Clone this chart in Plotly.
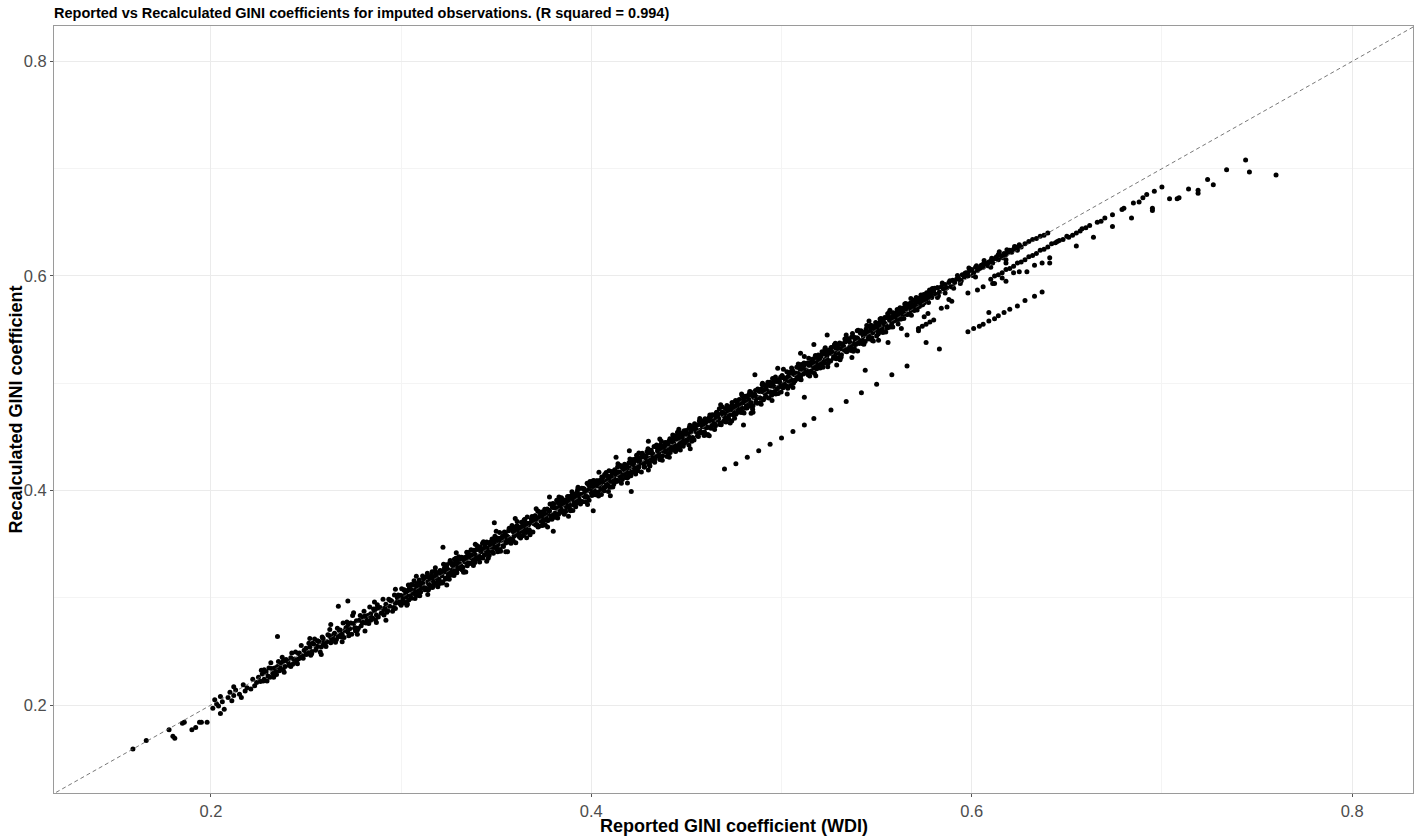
import plotly.graph_objects as go

# ---------------- data ----------------
tail_x = [0.159, 0.166, 0.178, 0.180, 0.181, 0.185, 0.186, 0.190, 0.192, 0.194, 0.198, 0.195]
tail_y = [0.159, 0.167, 0.177, 0.171, 0.169, 0.183, 0.184, 0.177, 0.179, 0.184, 0.184, 0.184]

seg_a_x = [0.201, 0.202, 0.203, 0.204, 0.205, 0.206, 0.207, 0.209, 0.210, 0.211, 0.212, 0.213, 0.215, 0.216, 0.217,
           0.218, 0.219, 0.221, 0.222, 0.223, 0.224, 0.225,
           0.226, 0.227, 0.228, 0.229, 0.230, 0.231, 0.232, 0.233, 0.234, 0.235, 0.236, 0.237, 0.238, 0.239, 0.240,
           0.241, 0.242, 0.243, 0.244, 0.245, 0.246, 0.247, 0.248, 0.249, 0.250, 0.251, 0.252, 0.253, 0.254, 0.255,
           0.256, 0.257, 0.258, 0.259, 0.260,
           0.228, 0.233, 0.238, 0.242, 0.246, 0.250, 0.253, 0.256, 0.259]
seg_a_y = [0.197, 0.205, 0.201, 0.199, 0.208, 0.203, 0.196, 0.207, 0.212, 0.204, 0.209, 0.214, 0.210, 0.207, 0.219,
           0.213, 0.216, 0.215, 0.224, 0.218, 0.221, 0.226,
           0.222, 0.229, 0.224, 0.231, 0.227, 0.226, 0.234, 0.229, 0.231, 0.236, 0.232, 0.239, 0.233, 0.236, 0.241,
           0.237, 0.244, 0.238, 0.243, 0.240, 0.248, 0.244, 0.246, 0.251, 0.247, 0.249, 0.254, 0.250, 0.257, 0.251,
           0.255, 0.259, 0.254, 0.262, 0.257,
           0.233, 0.226, 0.241, 0.236, 0.243, 0.253, 0.248, 0.260, 0.256]

seg_a2_x = [0.2265, 0.2275, 0.2285, 0.2295, 0.2305, 0.2315, 0.2325, 0.2335, 0.2345, 0.2355, 0.2365, 0.2375, 0.2385, 0.2395,
            0.2405, 0.2415, 0.2425, 0.2435, 0.2445, 0.2455, 0.2465, 0.2475, 0.2485, 0.2495, 0.2505, 0.2515, 0.2525, 0.2535,
            0.2545, 0.2555, 0.2565, 0.2575, 0.2585, 0.2595]
seg_a2_y = [0.2325, 0.2225, 0.2305, 0.2225, 0.2345, 0.2395, 0.2295, 0.2345, 0.2285, 0.2405, 0.2345, 0.2445, 0.2305, 0.2425,
            0.2405, 0.2375, 0.2485, 0.2425, 0.2495, 0.2385, 0.2485, 0.2555, 0.2435, 0.2505, 0.2475, 0.2575, 0.2465, 0.2575,
            0.2615, 0.2535, 0.2595, 0.2495, 0.2635, 0.2585]

seg_b_x = [0.261, 0.262, 0.263, 0.264, 0.265, 0.266, 0.267, 0.268, 0.269, 0.270, 0.271, 0.272, 0.273, 0.274, 0.275,
           0.276, 0.277, 0.278, 0.279, 0.280, 0.281, 0.282, 0.283, 0.284, 0.285, 0.286, 0.287, 0.288, 0.289, 0.290,
           0.291, 0.292, 0.293, 0.294, 0.295, 0.296, 0.297, 0.298, 0.299, 0.300,
           0.263, 0.268, 0.272, 0.276, 0.280, 0.284, 0.287, 0.291, 0.294, 0.297, 0.299]
seg_b_y = [0.259, 0.265, 0.258, 0.262, 0.267, 0.261, 0.264, 0.270, 0.266, 0.263, 0.272, 0.268, 0.271, 0.266, 0.276,
           0.272, 0.270, 0.279, 0.274, 0.277, 0.283, 0.279, 0.276, 0.285, 0.281, 0.288, 0.284, 0.282, 0.291, 0.286,
           0.289, 0.294, 0.288, 0.292, 0.297, 0.291, 0.295, 0.300, 0.296, 0.293,
           0.263, 0.265, 0.274, 0.269, 0.282, 0.279, 0.290, 0.284, 0.298, 0.290, 0.302]

seg_b2_x = [0.2605, 0.2615, 0.2625, 0.2635, 0.2645, 0.2655, 0.2665, 0.2675, 0.2685, 0.2695, 0.2705, 0.2715, 0.2725, 0.2735,
            0.2745, 0.2755, 0.2765, 0.2775, 0.2785, 0.2795, 0.2805, 0.2815, 0.2825, 0.2835, 0.2845, 0.2855, 0.2865, 0.2875,
            0.2885, 0.2895, 0.2905, 0.2915, 0.2925, 0.2935, 0.2945, 0.2955, 0.2965, 0.2975, 0.2985, 0.2995]
seg_b2_y = [0.2545, 0.2655, 0.2705, 0.2605, 0.2655, 0.2585, 0.2715, 0.2695, 0.2635, 0.2765, 0.2695, 0.2775, 0.2645, 0.2765,
            0.2835, 0.2715, 0.2785, 0.2715, 0.2835, 0.2775, 0.2875, 0.2765, 0.2835, 0.2915, 0.2815, 0.2895, 0.2795, 0.2935,
            0.2905, 0.2855, 0.2985, 0.2905, 0.2865, 0.2985, 0.2975, 0.2875, 0.3025, 0.2955, 0.3025, 0.2945]

band_c1_x = [0.300, 0.301, 0.302, 0.303, 0.304, 0.305, 0.306, 0.307, 0.308, 0.309, 0.310, 0.311, 0.312, 0.313, 0.314, 0.315, 0.316, 0.317, 0.318, 0.319,
             0.320, 0.321, 0.322, 0.323, 0.324, 0.325, 0.326, 0.327, 0.328, 0.329, 0.330, 0.331, 0.332, 0.333, 0.334, 0.335, 0.336, 0.337, 0.338, 0.339,
             0.340, 0.341, 0.342, 0.343, 0.344, 0.345, 0.346, 0.347, 0.348, 0.349, 0.350, 0.351, 0.352, 0.353, 0.354, 0.355, 0.356, 0.357, 0.358, 0.359,
             0.360, 0.361, 0.362, 0.363, 0.364, 0.365, 0.366, 0.367, 0.368, 0.369, 0.370, 0.371, 0.372, 0.373, 0.374, 0.375, 0.376, 0.377, 0.378, 0.379,
             0.380, 0.381, 0.382, 0.383, 0.384, 0.385, 0.386, 0.387, 0.388, 0.389, 0.390, 0.391, 0.392, 0.393, 0.394, 0.395, 0.396, 0.397, 0.398, 0.399,
             0.400, 0.401, 0.402, 0.403, 0.404, 0.405, 0.406, 0.407, 0.408, 0.409, 0.410, 0.411, 0.412, 0.413, 0.414, 0.415, 0.416, 0.417, 0.418, 0.419,
             0.420, 0.421, 0.422, 0.423, 0.424, 0.425, 0.426, 0.427, 0.428, 0.429, 0.430, 0.431, 0.432, 0.433, 0.434, 0.435, 0.436, 0.437, 0.438, 0.439,
             0.440, 0.441, 0.442, 0.443, 0.444, 0.445, 0.446, 0.447, 0.448, 0.449, 0.450, 0.451, 0.452, 0.453, 0.454, 0.455, 0.456, 0.457, 0.458, 0.459,
             0.460, 0.461, 0.462, 0.463, 0.464, 0.465, 0.466, 0.467, 0.468, 0.469, 0.470, 0.471, 0.472, 0.473, 0.474, 0.475, 0.476, 0.477, 0.478, 0.479,
             0.480, 0.481, 0.482, 0.483, 0.484, 0.485, 0.486, 0.487, 0.488, 0.489, 0.490, 0.491, 0.492, 0.493, 0.494, 0.495, 0.496, 0.497, 0.498, 0.499]
band_c1_y = [0.302, 0.297, 0.307, 0.302, 0.298, 0.308, 0.312, 0.304, 0.308, 0.302, 0.314, 0.309, 0.319, 0.308, 0.315, 0.312, 0.321, 0.311, 0.320, 0.318,
             0.317, 0.325, 0.315, 0.324, 0.330, 0.323, 0.321, 0.330, 0.336, 0.325, 0.330, 0.336, 0.326, 0.335, 0.333, 0.341, 0.332, 0.340, 0.330, 0.340,
             0.345, 0.339, 0.343, 0.337, 0.348, 0.352, 0.343, 0.347, 0.343, 0.351, 0.356, 0.350, 0.345, 0.356, 0.358, 0.351, 0.357, 0.355, 0.365, 0.353,
             0.360, 0.367, 0.357, 0.366, 0.362, 0.373, 0.362, 0.368, 0.361, 0.374, 0.369, 0.373, 0.366, 0.377, 0.380, 0.372, 0.376, 0.372, 0.381, 0.377,
             0.384, 0.375, 0.384, 0.390, 0.383, 0.381, 0.391, 0.384, 0.389, 0.381, 0.396, 0.391, 0.390, 0.396, 0.389, 0.402, 0.395, 0.399, 0.394, 0.404,
             0.398, 0.404, 0.396, 0.409, 0.404, 0.401, 0.408, 0.415, 0.405, 0.410, 0.403, 0.416, 0.411, 0.417, 0.409, 0.417, 0.422, 0.415, 0.412, 0.422,
             0.421, 0.416, 0.429, 0.421, 0.428, 0.422, 0.426, 0.433, 0.422, 0.431, 0.435, 0.430, 0.428, 0.441, 0.432, 0.438, 0.429, 0.438, 0.442, 0.436,
             0.439, 0.446, 0.438, 0.445, 0.451, 0.439, 0.449, 0.445, 0.449, 0.444, 0.456, 0.451, 0.449, 0.457, 0.447, 0.457, 0.461, 0.456, 0.454, 0.465,
             0.463, 0.459, 0.468, 0.458, 0.465, 0.462, 0.473, 0.467, 0.462, 0.473, 0.469, 0.476, 0.468, 0.475, 0.482, 0.472, 0.471, 0.480, 0.478, 0.477,
             0.485, 0.477, 0.483, 0.490, 0.482, 0.479, 0.489, 0.487, 0.494, 0.486, 0.492, 0.486, 0.496, 0.492, 0.501, 0.491, 0.497, 0.490, 0.503, 0.501]

band_c2_x = [0.3005, 0.3015, 0.3025, 0.3035, 0.3045, 0.3055, 0.3065, 0.3075, 0.3085, 0.3095, 0.3105, 0.3115, 0.3125, 0.3135, 0.3145, 0.3155, 0.3165, 0.3175, 0.3185, 0.3195,
             0.3205, 0.3215, 0.3225, 0.3235, 0.3245, 0.3255, 0.3265, 0.3275, 0.3285, 0.3295, 0.3305, 0.3315, 0.3325, 0.3335, 0.3345, 0.3355, 0.3365, 0.3375, 0.3385, 0.3395,
             0.3405, 0.3415, 0.3425, 0.3435, 0.3445, 0.3455, 0.3465, 0.3475, 0.3485, 0.3495, 0.3505, 0.3515, 0.3525, 0.3535, 0.3545, 0.3555, 0.3565, 0.3575, 0.3585, 0.3595,
             0.3605, 0.3615, 0.3625, 0.3635, 0.3645, 0.3655, 0.3665, 0.3675, 0.3685, 0.3695, 0.3705, 0.3715, 0.3725, 0.3735, 0.3745, 0.3755, 0.3765, 0.3775, 0.3785, 0.3795,
             0.3805, 0.3815, 0.3825, 0.3835, 0.3845, 0.3855, 0.3865, 0.3875, 0.3885, 0.3895, 0.3905, 0.3915, 0.3925, 0.3935, 0.3945, 0.3955, 0.3965, 0.3975, 0.3985, 0.3995,
             0.4005, 0.4015, 0.4025, 0.4035, 0.4045, 0.4055, 0.4065, 0.4075, 0.4085, 0.4095, 0.4105, 0.4115, 0.4125, 0.4135, 0.4145, 0.4155, 0.4165, 0.4175, 0.4185, 0.4195,
             0.4205, 0.4215, 0.4225, 0.4235, 0.4245, 0.4255, 0.4265, 0.4275, 0.4285, 0.4295, 0.4305, 0.4315, 0.4325, 0.4335, 0.4345, 0.4355, 0.4365, 0.4375, 0.4385, 0.4395,
             0.4405, 0.4415, 0.4425, 0.4435, 0.4445, 0.4455, 0.4465, 0.4475, 0.4485, 0.4495, 0.4505, 0.4515, 0.4525, 0.4535, 0.4545, 0.4555, 0.4565, 0.4575, 0.4585, 0.4595,
             0.4605, 0.4615, 0.4625, 0.4635, 0.4645, 0.4655, 0.4665, 0.4675, 0.4685, 0.4695, 0.4705, 0.4715, 0.4725, 0.4735, 0.4745, 0.4755, 0.4765, 0.4775, 0.4785, 0.4795,
             0.4805, 0.4815, 0.4825, 0.4835, 0.4845, 0.4855, 0.4865, 0.4875, 0.4885, 0.4895, 0.4905, 0.4915, 0.4925, 0.4935, 0.4945, 0.4955, 0.4965, 0.4975, 0.4985, 0.4995]
band_c2_y = [0.2965, 0.3075, 0.3005, 0.3065, 0.3095, 0.2995, 0.3065, 0.3115, 0.3055, 0.3165, 0.3095, 0.3135, 0.3075, 0.3195, 0.3125, 0.3195, 0.3095, 0.3185, 0.3215, 0.3155,
             0.3255, 0.3205, 0.3255, 0.3175, 0.3265, 0.3325, 0.3235, 0.3225, 0.3295, 0.3335, 0.3285, 0.3365, 0.3285, 0.3335, 0.3425, 0.3325, 0.3375, 0.3325, 0.3435, 0.3385,
             0.3375, 0.3475, 0.3375, 0.3455, 0.3445, 0.3415, 0.3515, 0.3505, 0.3415, 0.3555, 0.3485, 0.3555, 0.3535, 0.3485, 0.3575, 0.3545, 0.3625, 0.3545, 0.3545, 0.3615,
             0.3645, 0.3585, 0.3645, 0.3575, 0.3715, 0.3645, 0.3695, 0.3625, 0.3735, 0.3695, 0.3765, 0.3675, 0.3745, 0.3715, 0.3695, 0.3825, 0.3735, 0.3815, 0.3775, 0.3845,
             0.3755, 0.3835, 0.3885, 0.3805, 0.3885, 0.3865, 0.3805, 0.3945, 0.3865, 0.3925, 0.3865, 0.3965, 0.3985, 0.3925, 0.3965, 0.3895, 0.3995, 0.3945, 0.4055, 0.3995,
             0.4065, 0.4005, 0.4055, 0.3985, 0.4065, 0.4125, 0.4025, 0.4075, 0.4135, 0.4035, 0.4135, 0.4095, 0.4185, 0.4095, 0.4155, 0.4125, 0.4205, 0.4245, 0.4175, 0.4145,
             0.4165, 0.4245, 0.4215, 0.4295, 0.4185, 0.4275, 0.4315, 0.4245, 0.4325, 0.4275, 0.4255, 0.4375, 0.4325, 0.4295, 0.4405, 0.4355, 0.4395, 0.4325, 0.4415, 0.4445,
             0.4435, 0.4355, 0.4465, 0.4435, 0.4415, 0.4505, 0.4415, 0.4535, 0.4465, 0.4525, 0.4465, 0.4585, 0.4545, 0.4475, 0.4585, 0.4545, 0.4535, 0.4635, 0.4595, 0.4545,
             0.4585, 0.4665, 0.4585, 0.4705, 0.4615, 0.4675, 0.4655, 0.4615, 0.4725, 0.4645, 0.4765, 0.4725, 0.4705, 0.4785, 0.4705, 0.4785, 0.4825, 0.4745, 0.4805, 0.4735,
             0.4825, 0.4785, 0.4885, 0.4785, 0.4885, 0.4865, 0.4825, 0.4945, 0.4865, 0.4945, 0.4845, 0.4945, 0.4925, 0.4995, 0.4915, 0.4975, 0.4915, 0.5015, 0.4965, 0.5055]

band_c3_x = [0.3003, 0.3013, 0.3023, 0.3033, 0.3043, 0.3053, 0.3063, 0.3073, 0.3083, 0.3093, 0.3103, 0.3113, 0.3123, 0.3133, 0.3143, 0.3153, 0.3163, 0.3173, 0.3183, 0.3193,
             0.3203, 0.3213, 0.3223, 0.3233, 0.3243, 0.3253, 0.3263, 0.3273, 0.3283, 0.3293, 0.3303, 0.3313, 0.3323, 0.3333, 0.3343, 0.3353, 0.3363, 0.3373, 0.3383, 0.3393,
             0.3403, 0.3413, 0.3423, 0.3433, 0.3443, 0.3453, 0.3463, 0.3473, 0.3483, 0.3493, 0.3503, 0.3513, 0.3523, 0.3533, 0.3543, 0.3553, 0.3563, 0.3573, 0.3583, 0.3593,
             0.3603, 0.3613, 0.3623, 0.3633, 0.3643, 0.3653, 0.3663, 0.3673, 0.3683, 0.3693, 0.3703, 0.3713, 0.3723, 0.3733, 0.3743, 0.3753, 0.3763, 0.3773, 0.3783, 0.3793,
             0.3803, 0.3813, 0.3823, 0.3833, 0.3843, 0.3853, 0.3863, 0.3873, 0.3883, 0.3893, 0.3903, 0.3913, 0.3923, 0.3933, 0.3943, 0.3953, 0.3963, 0.3973, 0.3983, 0.3993,
             0.4003, 0.4013, 0.4023, 0.4033, 0.4043, 0.4053, 0.4063, 0.4073, 0.4083, 0.4093, 0.4103, 0.4113, 0.4123, 0.4133, 0.4143, 0.4153, 0.4163, 0.4173, 0.4183, 0.4193,
             0.4203, 0.4213, 0.4223, 0.4233, 0.4243, 0.4253, 0.4263, 0.4273, 0.4283, 0.4293, 0.4303, 0.4313, 0.4323, 0.4333, 0.4343, 0.4353, 0.4363, 0.4373, 0.4383, 0.4393,
             0.4403, 0.4413, 0.4423, 0.4433, 0.4443, 0.4453, 0.4463, 0.4473, 0.4483, 0.4493, 0.4503, 0.4513, 0.4523, 0.4533, 0.4543, 0.4553, 0.4563, 0.4573, 0.4583, 0.4593,
             0.4603, 0.4613, 0.4623, 0.4633, 0.4643, 0.4653, 0.4663, 0.4673, 0.4683, 0.4693, 0.4703, 0.4713, 0.4723, 0.4733, 0.4743, 0.4753, 0.4763, 0.4773, 0.4783, 0.4793,
             0.4803, 0.4813, 0.4823, 0.4833, 0.4843, 0.4853, 0.4863, 0.4873, 0.4883, 0.4893, 0.4903, 0.4913, 0.4923, 0.4933, 0.4943, 0.4953, 0.4963, 0.4973, 0.4983, 0.4993]
band_c3_y = [0.3083, 0.2953, 0.3033, 0.2943, 0.3083, 0.3123, 0.3043, 0.2993, 0.3133, 0.3093, 0.3053, 0.3203, 0.3093, 0.3193, 0.3073, 0.3173, 0.3243, 0.3133, 0.3213, 0.3103,
             0.3133, 0.3243, 0.3313, 0.3183, 0.3253, 0.3173, 0.3323, 0.3253, 0.3323, 0.3233, 0.3383, 0.3303, 0.3373, 0.3243, 0.3363, 0.3423, 0.3323, 0.3373, 0.3443, 0.3363,
             0.3463, 0.3333, 0.3453, 0.3523, 0.3403, 0.3463, 0.3393, 0.3523, 0.3473, 0.3573, 0.3453, 0.3533, 0.3433, 0.3573, 0.3613, 0.3523, 0.3563, 0.3513, 0.3673, 0.3573,
             0.3513, 0.3663, 0.3613, 0.3703, 0.3583, 0.3683, 0.3753, 0.3633, 0.3703, 0.3613, 0.3763, 0.3683, 0.3803, 0.3733, 0.3673, 0.3793, 0.3773, 0.3723, 0.3873, 0.3733,
             0.3873, 0.3783, 0.3743, 0.3873, 0.3933, 0.3793, 0.3883, 0.3863, 0.3943, 0.3943, 0.3813, 0.3943, 0.3883, 0.4013, 0.3873, 0.3963, 0.4013, 0.3893, 0.4003, 0.4083,
             0.3953, 0.4093, 0.4043, 0.3963, 0.4093, 0.3963, 0.4123, 0.4033, 0.4093, 0.4183, 0.4083, 0.4033, 0.4193, 0.4083, 0.4173, 0.4233, 0.4103, 0.4193, 0.4233, 0.4123,
             0.4293, 0.4173, 0.4253, 0.4153, 0.4303, 0.4263, 0.4173, 0.4313, 0.4263, 0.4363, 0.4243, 0.4363, 0.4343, 0.4263, 0.4423, 0.4323, 0.4423, 0.4283, 0.4393, 0.4433,
             0.4343, 0.4483, 0.4403, 0.4483, 0.4363, 0.4543, 0.4433, 0.4483, 0.4413, 0.4553, 0.4533, 0.4423, 0.4573, 0.4493, 0.4623, 0.4543, 0.4503, 0.4643, 0.4603, 0.4513,
             0.4643, 0.4523, 0.4703, 0.4603, 0.4703, 0.4603, 0.4683, 0.4763, 0.4613, 0.4703, 0.4663, 0.4793, 0.4663, 0.4763, 0.4793, 0.4673, 0.4833, 0.4753, 0.4733, 0.4883,
             0.4723, 0.4873, 0.4793, 0.4923, 0.4793, 0.4873, 0.4933, 0.4813, 0.4923, 0.4803, 0.4983, 0.4903, 0.4983, 0.4863, 0.4973, 0.5043, 0.4923, 0.5023, 0.4903, 0.5003]

band_c4_x = [0.3008, 0.3018, 0.3028, 0.3038, 0.3048, 0.3058, 0.3068, 0.3078, 0.3088, 0.3098, 0.3108, 0.3118, 0.3128, 0.3138, 0.3148, 0.3158, 0.3168, 0.3178, 0.3188, 0.3198,
             0.3208, 0.3218, 0.3228, 0.3238, 0.3248, 0.3258, 0.3268, 0.3278, 0.3288, 0.3298, 0.3308, 0.3318, 0.3328, 0.3338, 0.3348, 0.3358, 0.3368, 0.3378, 0.3388, 0.3398,
             0.3408, 0.3418, 0.3428, 0.3438, 0.3448, 0.3458, 0.3468, 0.3478, 0.3488, 0.3498, 0.3508, 0.3518, 0.3528, 0.3538, 0.3548, 0.3558, 0.3568, 0.3578, 0.3588, 0.3598,
             0.3608, 0.3618, 0.3628, 0.3638, 0.3648, 0.3658, 0.3668, 0.3678, 0.3688, 0.3698, 0.3708, 0.3718, 0.3728, 0.3738, 0.3748, 0.3758, 0.3768, 0.3778, 0.3788, 0.3798,
             0.3808, 0.3818, 0.3828, 0.3838, 0.3848, 0.3858, 0.3868, 0.3878, 0.3888, 0.3898, 0.3908, 0.3918, 0.3928, 0.3938, 0.3948, 0.3958, 0.3968, 0.3978, 0.3988, 0.3998,
             0.4008, 0.4018, 0.4028, 0.4038, 0.4048, 0.4058, 0.4068, 0.4078, 0.4088, 0.4098, 0.4108, 0.4118, 0.4128, 0.4138, 0.4148, 0.4158, 0.4168, 0.4178, 0.4188, 0.4198,
             0.4208, 0.4218, 0.4228, 0.4238, 0.4248, 0.4258, 0.4268, 0.4278, 0.4288, 0.4298, 0.4308, 0.4318, 0.4328, 0.4338, 0.4348, 0.4358, 0.4368, 0.4378, 0.4388, 0.4398,
             0.4408, 0.4418, 0.4428, 0.4438, 0.4448, 0.4458, 0.4468, 0.4478, 0.4488, 0.4498, 0.4508, 0.4518, 0.4528, 0.4538, 0.4548, 0.4558, 0.4568, 0.4578, 0.4588, 0.4598,
             0.4608, 0.4618, 0.4628, 0.4638, 0.4648, 0.4658, 0.4668, 0.4678, 0.4688, 0.4698, 0.4708, 0.4718, 0.4728, 0.4738, 0.4748, 0.4758, 0.4768, 0.4778, 0.4788, 0.4798,
             0.4808, 0.4818, 0.4828, 0.4838, 0.4848, 0.4858, 0.4868, 0.4878, 0.4888, 0.4898, 0.4908, 0.4918, 0.4928, 0.4938, 0.4948, 0.4958, 0.4968, 0.4978, 0.4988, 0.4998]
band_c4_y = [0.2998, 0.3068, 0.2958, 0.3118, 0.3018, 0.3068, 0.3158, 0.3028, 0.3128, 0.3018, 0.3128, 0.3178, 0.3088, 0.3228, 0.3088, 0.3188, 0.3158, 0.3248, 0.3138, 0.3238,
             0.3228, 0.3138, 0.3278, 0.3308, 0.3208, 0.3348, 0.3258, 0.3208, 0.3368, 0.3268, 0.3318, 0.3378, 0.3238, 0.3378, 0.3298, 0.3388, 0.3448, 0.3358, 0.3328, 0.3488,
             0.3358, 0.3438, 0.3508, 0.3398, 0.3508, 0.3368, 0.3498, 0.3548, 0.3468, 0.3538, 0.3428, 0.3608, 0.3538, 0.3478, 0.3598, 0.3548, 0.3648, 0.3508, 0.3618, 0.3658,
             0.3668, 0.3628, 0.3558, 0.3668, 0.3728, 0.3608, 0.3688, 0.3588, 0.3758, 0.3738, 0.3678, 0.3808, 0.3668, 0.3788, 0.3758, 0.3678, 0.3828, 0.3808, 0.3748, 0.3878,
             0.3788, 0.3908, 0.3778, 0.3848, 0.3918, 0.3778, 0.3908, 0.3908, 0.3828, 0.3988, 0.3898, 0.3848, 0.4008, 0.3958, 0.3898, 0.4018, 0.3938, 0.4068, 0.3908, 0.4038,
             0.4088, 0.3988, 0.4088, 0.3948, 0.4058, 0.4108, 0.3998, 0.4168, 0.4048, 0.4128, 0.4178, 0.4058, 0.4148, 0.4218, 0.4138, 0.4068, 0.4218, 0.4208, 0.4118, 0.4258,
             0.4138, 0.4278, 0.4188, 0.4328, 0.4228, 0.4308, 0.4348, 0.4218, 0.4298, 0.4388, 0.4228, 0.4348, 0.4278, 0.4408, 0.4368, 0.4318, 0.4458, 0.4368, 0.4448, 0.4318,
             0.4458, 0.4398, 0.4518, 0.4378, 0.4478, 0.4538, 0.4378, 0.4518, 0.4558, 0.4468, 0.4518, 0.4608, 0.4458, 0.4598, 0.4568, 0.4508, 0.4648, 0.4538, 0.4618, 0.4668,
             0.4518, 0.4648, 0.4688, 0.4628, 0.4568, 0.4728, 0.4708, 0.4628, 0.4778, 0.4718, 0.4638, 0.4778, 0.4758, 0.4648, 0.4758, 0.4838, 0.4728, 0.4848, 0.4728, 0.4818,
             0.4878, 0.4768, 0.4848, 0.4918, 0.4758, 0.4898, 0.4858, 0.4938, 0.4818, 0.4988, 0.4938, 0.4878, 0.5008, 0.4918, 0.4888, 0.5008, 0.5058, 0.4948, 0.5028, 0.4918]

band_d1_x = [0.500, 0.501, 0.502, 0.503, 0.504, 0.505, 0.506, 0.507, 0.508, 0.509, 0.510, 0.511, 0.512, 0.513, 0.514, 0.515, 0.516, 0.517, 0.518, 0.519,
             0.520, 0.521, 0.522, 0.523, 0.524, 0.525, 0.526, 0.527, 0.528, 0.529, 0.530, 0.531, 0.532, 0.533, 0.534, 0.535, 0.536, 0.537, 0.538, 0.539,
             0.540, 0.541, 0.542, 0.543, 0.544, 0.545, 0.546, 0.547, 0.548, 0.549, 0.550, 0.551, 0.552, 0.553, 0.554, 0.555, 0.556, 0.557, 0.558, 0.559,
             0.560, 0.561, 0.562, 0.563, 0.564, 0.565, 0.566, 0.567, 0.568, 0.569, 0.570, 0.571, 0.572, 0.573, 0.574, 0.575, 0.576, 0.577, 0.578, 0.579]
band_d1_y = [0.497, 0.505, 0.503, 0.497, 0.510, 0.503, 0.509, 0.502, 0.515, 0.509, 0.506, 0.513, 0.517, 0.512, 0.508, 0.519, 0.517, 0.514, 0.524, 0.517,
             0.523, 0.516, 0.528, 0.522, 0.526, 0.521, 0.533, 0.527, 0.525, 0.534, 0.524, 0.532, 0.536, 0.531, 0.540, 0.531, 0.538, 0.536, 0.543, 0.536,
             0.542, 0.537, 0.548, 0.544, 0.539, 0.548, 0.544, 0.554, 0.547, 0.553, 0.544, 0.553, 0.557, 0.550, 0.555, 0.561, 0.552, 0.560, 0.556, 0.564,
             0.559, 0.565, 0.569, 0.560, 0.566, 0.570, 0.564, 0.573, 0.568, 0.572, 0.577, 0.570, 0.576, 0.575, 0.580, 0.575, 0.581, 0.580, 0.585, 0.580]

band_d2_x = [0.5005, 0.5015, 0.5025, 0.5035, 0.5045, 0.5055, 0.5065, 0.5075, 0.5085, 0.5095, 0.5105, 0.5115, 0.5125, 0.5135, 0.5145, 0.5155, 0.5165, 0.5175, 0.5185, 0.5195,
             0.5205, 0.5215, 0.5225, 0.5235, 0.5245, 0.5255, 0.5265, 0.5275, 0.5285, 0.5295, 0.5305, 0.5315, 0.5325, 0.5335, 0.5345, 0.5355, 0.5365, 0.5375, 0.5385, 0.5395,
             0.5405, 0.5415, 0.5425, 0.5435, 0.5445, 0.5455, 0.5465, 0.5475, 0.5485, 0.5495, 0.5505, 0.5515, 0.5525, 0.5535, 0.5545, 0.5555, 0.5565, 0.5575, 0.5585, 0.5595,
             0.5605, 0.5615, 0.5625, 0.5635, 0.5645, 0.5655, 0.5665, 0.5675, 0.5685, 0.5695, 0.5705, 0.5715, 0.5725, 0.5735, 0.5745, 0.5755, 0.5765, 0.5775, 0.5785, 0.5795]
band_d2_y = [0.5055, 0.4995, 0.4975, 0.5065, 0.5045, 0.5115, 0.5025, 0.5095, 0.5075, 0.5135, 0.5175, 0.5085, 0.5125, 0.5185, 0.5165, 0.5115, 0.5225, 0.5165, 0.5135, 0.5225,
             0.5185, 0.5275, 0.5185, 0.5265, 0.5185, 0.5305, 0.5275, 0.5245, 0.5325, 0.5285, 0.5375, 0.5265, 0.5345, 0.5385, 0.5315, 0.5395, 0.5305, 0.5435, 0.5385, 0.5425,
             0.5375, 0.5465, 0.5405, 0.5475, 0.5505, 0.5415, 0.5485, 0.5425, 0.5515, 0.5565, 0.5485, 0.5555, 0.5495, 0.5595, 0.5555, 0.5515, 0.5615, 0.5595, 0.5525, 0.5635,
             0.5655, 0.5595, 0.5655, 0.5695, 0.5645, 0.5695, 0.5735, 0.5645, 0.5735, 0.5715, 0.5745, 0.5775, 0.5715, 0.5785, 0.5775, 0.5825, 0.5785, 0.5835, 0.5825, 0.5875]

band_d3_x = [0.5003, 0.5013, 0.5023, 0.5033, 0.5043, 0.5053, 0.5063, 0.5073, 0.5083, 0.5093, 0.5103, 0.5113, 0.5123, 0.5133, 0.5143, 0.5153, 0.5163, 0.5173, 0.5183, 0.5193,
             0.5203, 0.5213, 0.5223, 0.5233, 0.5243, 0.5253, 0.5263, 0.5273, 0.5283, 0.5293, 0.5303, 0.5313, 0.5323, 0.5333, 0.5343, 0.5353, 0.5363, 0.5373, 0.5383, 0.5393,
             0.5403, 0.5413, 0.5423, 0.5433, 0.5443, 0.5453, 0.5463, 0.5473, 0.5483, 0.5493, 0.5503, 0.5513, 0.5523, 0.5533, 0.5543, 0.5553, 0.5563, 0.5573, 0.5583, 0.5593,
             0.5603, 0.5613, 0.5623, 0.5633, 0.5643, 0.5653, 0.5663, 0.5673, 0.5683, 0.5693, 0.5703, 0.5713, 0.5723, 0.5733, 0.5743, 0.5753, 0.5763, 0.5773, 0.5783, 0.5793]
band_d3_y = [0.5073, 0.4973, 0.5043, 0.4953, 0.5093, 0.5143, 0.5003, 0.5083, 0.5053, 0.5173, 0.5033, 0.5153, 0.5183, 0.5113, 0.5233, 0.5103, 0.5193, 0.5093, 0.5193, 0.5263,
             0.5143, 0.5293, 0.5203, 0.5283, 0.5153, 0.5283, 0.5333, 0.5233, 0.5373, 0.5283, 0.5363, 0.5243, 0.5343, 0.5413, 0.5293, 0.5393, 0.5333, 0.5463, 0.5323, 0.5413,
             0.5493, 0.5383, 0.5473, 0.5363, 0.5463, 0.5533, 0.5413, 0.5533, 0.5393, 0.5523, 0.5513, 0.5473, 0.5603, 0.5473, 0.5613, 0.5533, 0.5653, 0.5523, 0.5623, 0.5583,
             0.5633, 0.5553, 0.5703, 0.5643, 0.5603, 0.5743, 0.5643, 0.5733, 0.5633, 0.5773, 0.5723, 0.5683, 0.5793, 0.5823, 0.5733, 0.5803, 0.5843, 0.5753, 0.5843, 0.5883]

band_d4_x = [0.5008, 0.5018, 0.5028, 0.5038, 0.5048, 0.5058, 0.5068, 0.5078, 0.5088, 0.5098, 0.5108, 0.5118, 0.5128, 0.5138, 0.5148, 0.5158, 0.5168, 0.5178, 0.5188, 0.5198,
             0.5208, 0.5218, 0.5228, 0.5238, 0.5248, 0.5258, 0.5268, 0.5278, 0.5288, 0.5298, 0.5308, 0.5318, 0.5328, 0.5338, 0.5348, 0.5358, 0.5368, 0.5378, 0.5388, 0.5398,
             0.5408, 0.5418, 0.5428, 0.5438, 0.5448, 0.5458, 0.5468, 0.5478, 0.5488, 0.5498, 0.5508, 0.5518, 0.5528, 0.5538, 0.5548, 0.5558, 0.5568, 0.5578, 0.5588, 0.5598,
             0.5608, 0.5618, 0.5628, 0.5638, 0.5648, 0.5658, 0.5668, 0.5678, 0.5688, 0.5698, 0.5708, 0.5718, 0.5728, 0.5738, 0.5748, 0.5758, 0.5768, 0.5778, 0.5788, 0.5798]
band_d4_y = [0.4958, 0.5048, 0.5108, 0.5018, 0.4978, 0.5118, 0.5078, 0.5038, 0.5178, 0.5038, 0.5128, 0.5188, 0.5098, 0.5188, 0.5068, 0.5198, 0.5158, 0.5258, 0.5148, 0.5218,
             0.5248, 0.5148, 0.5318, 0.5228, 0.5308, 0.5208, 0.5288, 0.5358, 0.5228, 0.5328, 0.5218, 0.5368, 0.5338, 0.5298, 0.5418, 0.5338, 0.5428, 0.5298, 0.5418, 0.5488,
             0.5388, 0.5488, 0.5368, 0.5478, 0.5538, 0.5428, 0.5518, 0.5398, 0.5508, 0.5558, 0.5458, 0.5598, 0.5518, 0.5568, 0.5478, 0.5648, 0.5588, 0.5538, 0.5658, 0.5608,
             0.5688, 0.5638, 0.5598, 0.5698, 0.5738, 0.5648, 0.5708, 0.5748, 0.5698, 0.5678, 0.5798, 0.5768, 0.5758, 0.5728, 0.5828, 0.5818, 0.5788, 0.5868, 0.5828, 0.5868]

edge_x = [0.252, 0.258, 0.263, 0.269, 0.275, 0.281, 0.286, 0.292, 0.297, 0.303, 0.308, 0.314, 0.318, 0.324, 0.329,
          0.334, 0.339, 0.345, 0.350, 0.356, 0.361, 0.366, 0.371, 0.377, 0.383, 0.388, 0.393, 0.398, 0.404, 0.409,
          0.414, 0.419, 0.425, 0.430, 0.436, 0.441, 0.446, 0.452, 0.457, 0.462, 0.468, 0.473, 0.479, 0.484, 0.490,
          0.495, 0.501, 0.506, 0.512, 0.518, 0.523, 0.529, 0.534, 0.540, 0.546, 0.551, 0.557, 0.563, 0.568]
edge_y = [0.262, 0.247, 0.275, 0.259, 0.286, 0.269, 0.296, 0.279, 0.308, 0.293, 0.320, 0.303, 0.328, 0.312, 0.342,
          0.324, 0.350, 0.334, 0.362, 0.343, 0.371, 0.356, 0.383, 0.366, 0.394, 0.376, 0.403, 0.387, 0.417, 0.399,
          0.425, 0.407, 0.435, 0.419, 0.448, 0.431, 0.457, 0.439, 0.467, 0.451, 0.480, 0.463, 0.490, 0.472, 0.500,
          0.484, 0.513, 0.496, 0.525, 0.507, 0.533, 0.517, 0.545, 0.530, 0.558, 0.540, 0.567, 0.551, 0.579]

upper_x = [0.580, 0.581, 0.582, 0.583, 0.584, 0.585, 0.586, 0.587, 0.588, 0.589, 0.590, 0.591, 0.592, 0.593, 0.594,
           0.595, 0.596, 0.597, 0.598, 0.599, 0.600, 0.601, 0.602, 0.603, 0.604, 0.605, 0.606, 0.607, 0.608, 0.609,
           0.610, 0.611, 0.612, 0.613, 0.614, 0.615, 0.616, 0.617, 0.618, 0.619, 0.620, 0.621, 0.622, 0.623, 0.624,
           0.625, 0.626, 0.628, 0.630, 0.632, 0.634, 0.636, 0.638, 0.640,
           0.582, 0.586, 0.590, 0.594, 0.598, 0.602, 0.606, 0.610, 0.614, 0.618]
upper_y = [0.586, 0.583, 0.589, 0.585, 0.590, 0.588, 0.592, 0.589, 0.594, 0.590, 0.596, 0.594, 0.597, 0.598, 0.596,
           0.601, 0.599, 0.603, 0.600, 0.605, 0.606, 0.603, 0.608, 0.605, 0.607, 0.610, 0.608, 0.612, 0.611, 0.613,
           0.614, 0.612, 0.616, 0.618, 0.615, 0.619, 0.617, 0.621, 0.620, 0.622, 0.624, 0.622, 0.625, 0.627, 0.624,
           0.629, 0.627, 0.630, 0.632, 0.634, 0.635, 0.637, 0.638, 0.640,
           0.580, 0.584, 0.590, 0.593, 0.603, 0.599, 0.611, 0.608, 0.620, 0.615]

upper2_x = [0.5805, 0.5825, 0.5845, 0.5865, 0.5885, 0.5905, 0.5925, 0.5945, 0.5965, 0.5985, 0.6005, 0.6025, 0.6045,
            0.6065, 0.6085, 0.6105, 0.6125, 0.6145, 0.6165, 0.6185, 0.6205, 0.6225, 0.6245]
upper2_y = [0.5885, 0.5815, 0.5935, 0.5885, 0.5955, 0.5885, 0.6005, 0.5955, 0.6025, 0.6075, 0.6005, 0.6095, 0.6075,
            0.6145, 0.6095, 0.6165, 0.6165, 0.6225, 0.6185, 0.6245, 0.6235, 0.6275, 0.6265]

zline_x = [0.572, 0.574, 0.576, 0.578, 0.580, 0.575, 0.577]
zline_y = [0.551, 0.553, 0.555, 0.557, 0.559, 0.562, 0.565]

subline_x = [0.610, 0.612, 0.614, 0.616, 0.618, 0.620, 0.622, 0.624, 0.626, 0.628, 0.630, 0.632, 0.634, 0.636, 0.638, 0.640, 0.642, 0.644]
subline_y = [0.597, 0.600, 0.601, 0.603, 0.606, 0.607, 0.609, 0.612, 0.613, 0.615, 0.618, 0.619, 0.621, 0.624, 0.625, 0.627, 0.630, 0.631]

lowline_x = [0.470, 0.476, 0.482, 0.488, 0.494, 0.500, 0.506, 0.512, 0.517, 0.526, 0.534, 0.542, 0.550, 0.558, 0.566,
             0.544, 0.556, 0.566, 0.572, 0.576, 0.583]
lowline_y = [0.420, 0.425, 0.431, 0.437, 0.443, 0.449, 0.455, 0.461, 0.467, 0.475, 0.483, 0.491, 0.499, 0.508, 0.516,
             0.512, 0.538, 0.545, 0.549, 0.538, 0.532]

par_x = [0.598, 0.601, 0.604, 0.606, 0.609, 0.612, 0.614, 0.617, 0.620, 0.624, 0.628, 0.633, 0.637, 0.609]
par_y = [0.548, 0.551, 0.553, 0.555, 0.558, 0.560, 0.563, 0.566, 0.569, 0.572, 0.577, 0.581, 0.585, 0.566]

mid_x = [0.598, 0.603, 0.606, 0.5895, 0.584, 0.588, 0.587, 0.611, 0.616, 0.618, 0.622, 0.629, 0.633, 0.637, 0.641,
         0.641, 0.618, 0.612, 0.625]
mid_y = [0.584, 0.587, 0.590, 0.5765, 0.570, 0.578, 0.571, 0.593, 0.598, 0.595, 0.603, 0.604, 0.610, 0.612, 0.617,
         0.612, 0.612, 0.593, 0.604]

top_x = [0.645, 0.648, 0.651, 0.655, 0.658, 0.662, 0.664, 0.655, 0.668, 0.670, 0.674, 0.674, 0.679, 0.680, 0.684,
         0.685, 0.688, 0.690, 0.692, 0.695, 0.695, 0.696, 0.700, 0.704, 0.708, 0.709, 0.714, 0.719, 0.719, 0.724,
         0.727, 0.734, 0.744, 0.746, 0.760, 0.646, 0.650, 0.653, 0.657, 0.660, 0.666]
top_y = [0.632, 0.634, 0.636, 0.640, 0.644, 0.647, 0.636, 0.628, 0.651, 0.654, 0.657, 0.646, 0.662, 0.663, 0.654,
         0.668, 0.669, 0.673, 0.676, 0.663, 0.661, 0.679, 0.683, 0.672, 0.672, 0.673, 0.681, 0.680, 0.677, 0.690,
         0.685, 0.699, 0.708, 0.697, 0.694, 0.633, 0.637, 0.638, 0.642, 0.645, 0.650]

outlier_x = [0.205, 0.212, 0.235, 0.267, 0.272, 0.277, 0.287, 0.322, 0.349, 0.355, 0.360, 0.378, 0.380, 0.401, 0.410,
             0.413, 0.420, 0.421, 0.430, 0.480, 0.485, 0.486, 0.498, 0.503, 0.510, 0.512, 0.517, 0.524, 0.537, 0.557, 0.582]
outlier_y = [0.192, 0.217, 0.264, 0.292, 0.297, 0.266, 0.277, 0.347, 0.370, 0.343, 0.374, 0.394, 0.362, 0.381, 0.395,
             0.431, 0.437, 0.399, 0.446, 0.461, 0.473, 0.508, 0.514, 0.490, 0.528, 0.487, 0.536, 0.545, 0.524, 0.568, 0.589]

diag_x = [0.0, 1.0]
diag_y = [0.0, 1.0]

title_text = "Reported vs Recalculated GINI coefficients for imputed observations. (R squared = 0.994)"
x_title = "Reported GINI coefficient (WDI)"
y_title = "Recalculated GINI coefficient"
tick_vals = [0.2, 0.4, 0.6, 0.8]
tick_text = ["0.2", "0.4", "0.6", "0.8"]

# ---------------- figure ----------------
groups_x = [tail_x, seg_a_x, seg_a2_x, seg_b_x, seg_b2_x, band_c1_x, band_c2_x, band_c3_x, band_c4_x,
            band_d1_x, band_d2_x, band_d3_x, band_d4_x, edge_x, upper_x, upper2_x, zline_x, subline_x, lowline_x,
            par_x, mid_x, top_x, outlier_x]
groups_y = [tail_y, seg_a_y, seg_a2_y, seg_b_y, seg_b2_y, band_c1_y, band_c2_y, band_c3_y, band_c4_y,
            band_d1_y, band_d2_y, band_d3_y, band_d4_y, edge_y, upper_y, upper2_y, zline_y, subline_y, lowline_y,
            par_y, mid_y, top_y, outlier_y]
all_x, all_y = [], []
for gx, gy in zip(groups_x, groups_y):
    all_x += gx
    all_y += gy

fig = go.Figure()
fig.add_trace(go.Scatter(x=all_x, y=all_y, mode="markers",
                         marker=dict(color="black", size=5, line=dict(width=0)),
                         showlegend=False, hoverinfo="x+y"))
fig.add_trace(go.Scatter(x=diag_x, y=diag_y, mode="lines",
                         line=dict(color="#555555", width=0.8, dash="4px,3px"),
                         showlegend=False, hoverinfo="skip"))

FONT = "Liberation Sans, Arial, Helvetica, sans-serif"
axis_common = dict(
    tickvals=tick_vals, ticktext=tick_text,
    showgrid=True, gridcolor="#EBEBEB", gridwidth=1.1,
    minor=dict(dtick=0.1, tick0=0.1, showgrid=True, gridcolor="#F4F4F4", gridwidth=0.6, ticks=""),
    zeroline=False,
    showline=True, mirror=True, linecolor="#9A9A9A", linewidth=1,
    ticks="outside", ticklen=3, tickwidth=1, tickcolor="#555555",
    tickfont=dict(family=FONT, size=16.5, color="#4D4D4D"),
)

fig.update_layout(
    width=1416, height=840,
    margin=dict(l=54, r=3, t=26, b=47),
    paper_bgcolor="white", plot_bgcolor="white",
    font=dict(family=FONT),
    title=dict(text="<b>" + title_text + "</b>", x=0, xref="paper", xanchor="left",
               y=1 - 12.5 / 840, yref="container", yanchor="middle",
               font=dict(family=FONT, size=14.5, color="black")),
    xaxis=dict(range=[0.1175, 0.832], **axis_common),
    yaxis=dict(range=[0.118, 0.833], **axis_common),
    annotations=[
        dict(text="<b>" + x_title + "</b>", x=0.5, y=-(826 - 793) / 767, xref="paper", yref="paper",
             xanchor="center", yanchor="middle", showarrow=False,
             font=dict(family=FONT, size=18, color="black")),
        dict(text="<b>" + y_title + "</b>", x=-(54 - 15) / 1359, y=0.5, xref="paper", yref="paper",
             xanchor="center", yanchor="middle", textangle=-90, showarrow=False,
             font=dict(family=FONT, size=18, color="black")),
    ],
)

fig.write_html("out.html", config={"displayModeBar": False},
               post_script="document.body.style.margin='0px';document.body.style.overflow='hidden';")
